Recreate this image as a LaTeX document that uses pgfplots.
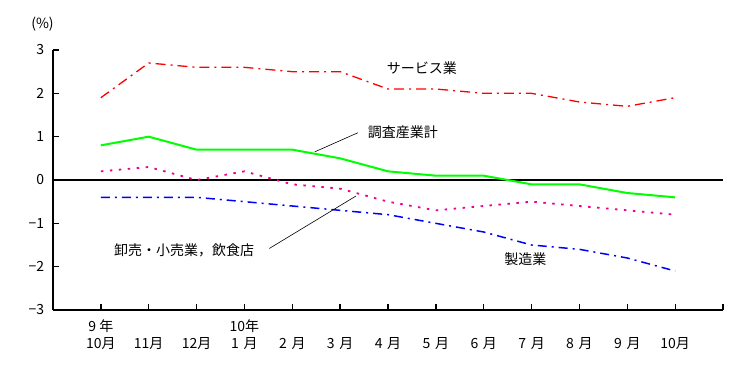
\documentclass[border=0pt]{standalone}
\usepackage{pgfplots}
\pgfplotsset{compat=1.18}
\usepackage{fontspec}
\setmainfont{Noto Sans CJK JP}
\begin{document}
\fontsize{14}{16}\selectfont
\begin{tikzpicture}[x=1pt,y=1pt]
\useasboundingbox (0,0) rectangle (747,378);
\begin{axis}[
  at={(53pt,68pt)}, anchor=south west,
  scale only axis, width=670pt, height=260pt,
  xmin=-1, xmax=13, ymin=-3, ymax=3,
  axis x line*=bottom, axis y line*=left,
  axis line style={line width=1.5pt, black},
  xtick={0,...,13},
  xticklabels={{9 年\\10月},{\phantom{年}\\11月},{\phantom{年}\\12月},{10年\\1\,\,月},{\phantom{年}\\2\,\,月},{\phantom{年}\\3\,\,月},{\phantom{年}\\4\,\,月},{\phantom{年}\\5\,\,月},{\phantom{年}\\6\,\,月},{\phantom{年}\\7\,\,月},{\phantom{年}\\8\,\,月},{\phantom{年}\\9\,\,月},{\phantom{年}\\10月},{}},
  xticklabel style={align=center, yshift=-5pt, font=\fontsize{14}{17}\selectfont},
  ytick={-3,...,3},
  yticklabels={−3,−2,−1,0,1,2,3},
  yticklabel style={xshift=-4pt, font=\fontsize{14}{16}\selectfont},
  tick align=inside, major tick length=6pt,
  tick style={black, line width=1.3pt},
  clip=false,
]
\addplot[black, line width=1.3pt] coordinates {(-1,0) (13,0)};
% サービス業
\addplot[red, line width=1.3pt, dash pattern=on 10pt off 5pt on 2pt off 5pt] coordinates {
(0,1.9) (1,2.7) (2,2.6) (3,2.6) (4,2.5) (5,2.5) (6,2.1) (7,2.1) (8,2.0) (9,2.0) (10,1.8) (11,1.7) (12,1.9)};
% 調査産業計
\addplot[green, line width=2pt] coordinates {
(0,0.8) (1,1.0) (2,0.7) (3,0.7) (4,0.7) (5,0.5) (6,0.2) (7,0.1) (8,0.1) (9,-0.1) (10,-0.1) (11,-0.3) (12,-0.4)};
% 卸売・小売業，飲食店
\addplot[magenta, line width=1.8pt, dash pattern=on 2.5pt off 6.5pt] coordinates {
(0,0.2) (1,0.3) (2,0.0) (3,0.2) (4,-0.1) (5,-0.2) (6,-0.5) (7,-0.7) (8,-0.6) (9,-0.5) (10,-0.6) (11,-0.7) (12,-0.8)};
% 製造業
\addplot[blue, line width=1.5pt, dash pattern=on 9pt off 5pt on 2pt off 5pt] coordinates {
(0,-0.4) (1,-0.4) (2,-0.4) (3,-0.5) (4,-0.6) (5,-0.7) (6,-0.8) (7,-1.0) (8,-1.2) (9,-1.5) (10,-1.6) (11,-1.8) (12,-2.1)};
\node at (axis cs:6.71,2.58) {サービス業};
\node at (axis cs:6.31,1.11) {調査産業計};
\draw[black, line width=0.6pt] (axis cs:4.47,0.65) -- (axis cs:5.37,1.09);
\node at (axis cs:1.74,-1.62) {卸売・小売業，飲食店};
\draw[black, line width=0.6pt] (axis cs:3.52,-1.58) -- (axis cs:5.33,-0.37);
\node at (axis cs:8.87,-1.83) {製造業};
\node at (axis cs:-1.22,3.6) {(\%)};
\end{axis}
\end{tikzpicture}
\end{document}
